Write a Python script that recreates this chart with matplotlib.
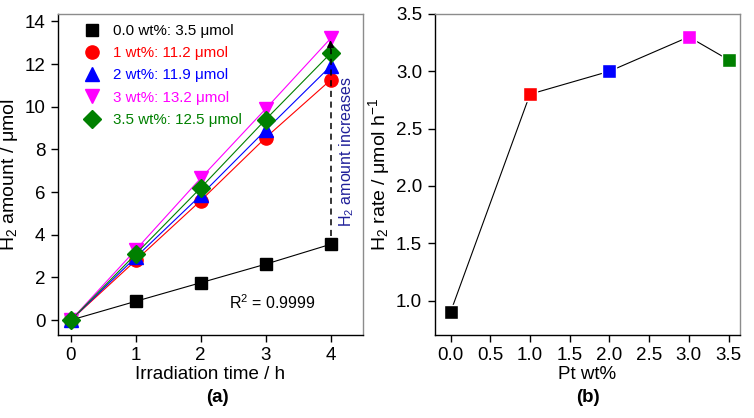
import matplotlib
matplotlib.use('Agg')
import matplotlib.pyplot as plt

plt.rcParams['font.family'] = ['Liberation Sans', 'DejaVu Sans']
plt.rcParams['mathtext.fontset'] = 'custom'
plt.rcParams['mathtext.rm'] = 'Liberation Sans'
plt.rcParams['mathtext.it'] = 'Liberation Sans:italic'

# (a) H2 amount vs irradiation time
time_h = [0, 1, 2, 3, 4]
amount_00 = [0, 0.88, 1.75, 2.62, 3.55]
amount_10 = [0, 2.8, 5.6, 8.55, 11.25]
amount_20 = [0, 2.95, 5.85, 8.9, 11.9]
amount_30 = [0, 3.3, 6.65, 9.9, 13.2]
amount_35 = [0, 3.1, 6.2, 9.4, 12.5]
series_labels = ['0.0 wt%: 3.5 \u03bcmol', '1 wt%: 11.2 \u03bcmol', '2 wt%: 11.9 \u03bcmol',
                 '3 wt%: 13.2 \u03bcmol', '3.5 wt%: 12.5 \u03bcmol']

# (b) H2 rate vs Pt loading
pt_wt = [0.0, 1.0, 2.0, 3.0, 3.5]
rate = [0.9, 2.8, 3.0, 3.3, 3.1]

colors = ['black', '#ff0000', '#0000ff', '#ff00ff', '#008000']
markers = ['s', 'o', '^', 'v', 'D']
msizes = [8, 9.5, 10, 10, 9]

fig = plt.figure(figsize=(7.54, 4.18), dpi=100)
ax1 = fig.add_axes([0.0769, 0.1986, 0.4045, 0.768])
ax2 = fig.add_axes([0.5765, 0.1986, 0.4045, 0.768])

all_amounts = [amount_00, amount_10, amount_20, amount_30, amount_35]
for vals, c, m, ms, lab in zip(all_amounts, colors, markers, msizes, series_labels):
    ax1.plot(time_h, vals, color=c, lw=0.8, marker=m, ms=ms, mec=c, label=lab)

ax1.set_xlim(-0.2, 4.5)
ax1.set_ylim(-0.7, 14.35)
ax1.set_xticks([0, 1, 2, 3, 4])
ax1.set_yticks([0, 2, 4, 6, 8, 10, 12, 14])
ax1.set_xlabel('Irradiation time / h', fontsize=13.5, labelpad=1)
ax1.set_ylabel('H$_2$ amount / \u03bcmol', fontsize=14, labelpad=3)

leg = ax1.legend(loc='upper left', bbox_to_anchor=(0.055, 1.0), frameon=False,
                 fontsize=10.9, handlelength=1.0, handletextpad=0.85,
                 labelspacing=0.55, borderaxespad=0.25, numpoints=1)
for t, c in zip(leg.get_texts(), colors):
    t.set_color(c)
for h in leg.legend_handles:
    h.set_linestyle('None')

# dashed arrow between 0.0 wt% and 3 wt% at 4 h
ax1.plot([4, 4], [3.95, 12.7], color='black', lw=1.1, ls=(0, (4, 3)))
ax1.annotate('', xy=(4, 13.25), xytext=(4, 12.6),
             arrowprops=dict(arrowstyle='-|>', color='black', lw=1.0,
                             mutation_scale=10))
ax1.text(4.25, 7.9, 'H$_2$ amount increases', rotation=90, color='#1f1f99',
         fontsize=11.5, ha='center', va='center')
ax1.text(3.1, 0.8, 'R$^2$ = 0.9999', fontsize=11.5, ha='center', va='center')

ax2.plot(pt_wt, rate, color='black', lw=0.8, zorder=1)
for x, y, c in zip(pt_wt, rate, colors):
    ax2.plot([x], [y], marker='s', ms=10, color=c, mec='white', mew=1.0, zorder=2)
ax2.set_xlim(-0.2, 3.64)
ax2.set_ylim(0.7, 3.5)
ax2.set_xticks([0.0, 0.5, 1.0, 1.5, 2.0, 2.5, 3.0, 3.5])
ax2.set_yticks([1.0, 1.5, 2.0, 2.5, 3.0, 3.5])
ax2.set_xticklabels(['%.1f' % v for v in ax2.get_xticks()])
ax2.set_yticklabels(['%.1f' % v for v in ax2.get_yticks()])
ax2.set_xlabel('Pt wt%', fontsize=13.5, labelpad=1)
ax2.set_ylabel('H$_2$ rate / \u03bcmol h$^{\u22121}$', fontsize=14, labelpad=3)

for ax in (ax1, ax2):
    ax.spines['left'].set_color('black')
    ax.spines['bottom'].set_color('black')
    ax.spines['top'].set_color('#8c8c8c')
    ax.spines['right'].set_color('#8c8c8c')
    for s in ax.spines.values():
        s.set_linewidth(1.0)
    ax.tick_params(direction='out', length=5, width=1.0, labelsize=13.5,
                   top=False, right=False, pad=4)

fig.text(0.288, 0.05, '(a)', fontsize=13.5, fontweight='bold', ha='center', va='center')
fig.text(0.780, 0.05, '(b)', fontsize=13.5, fontweight='bold', ha='center', va='center')

fig.savefig('out.png', dpi=100)
